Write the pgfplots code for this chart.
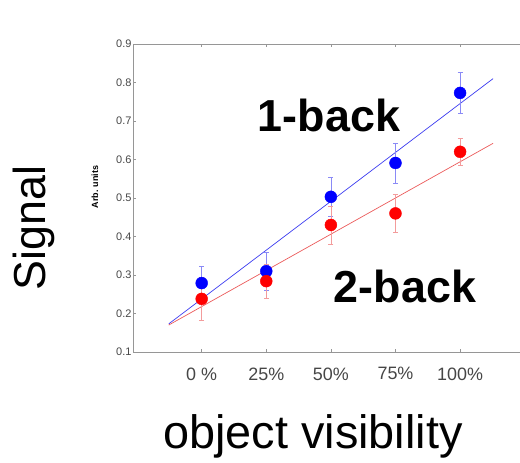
\documentclass[border=0pt]{standalone}
\usepackage{pgfplots}
\pgfplotsset{compat=1.18}
\usepackage{fontspec}
\setmainfont{Liberation Sans}
\definecolor{axgray}{RGB}{150,150,150}
\definecolor{tickgray}{RGB}{70,70,70}
\definecolor{linered}{RGB}{235,90,90}
\definecolor{lineblue}{RGB}{60,60,240}
\begin{document}
\begin{tikzpicture}
\useasboundingbox (0,0) rectangle (520bp,463bp);
\begin{axis}[
  at={(133bp,111bp)}, anchor=south west,
  scale only axis, width=391.7bp, height=308bp,
  xmin=-1.063, xmax=5, ymin=0.1, ymax=0.9,
  xtick={0,1,2,3,4}, xticklabels={0 \%,25\%,50\%,75\%,100\%},
  ytick={0.1,0.2,...,0.9},
  yticklabels={0.1,0.2,0.3,0.4,0.5,0.6,0.7,0.8,0.9},
  /pgf/number format/assume math mode=true,
  tick align=inside, major tick length=3bp,
  tick style={axgray, thin},
  axis line style={axgray, line width=0.8bp},
  xticklabel style={font=\fontsize{18}{18}\selectfont, text=tickgray, yshift=-12bp},
  yticklabel style={font=\fontsize{11}{11}\selectfont, text=tickgray, xshift=2bp},
  clip=false,
]
\addplot[lineblue, line width=0.7bp] coordinates {(-0.51,0.173) (4.51,0.81)};
\addplot[linered, line width=0.7bp] coordinates {(-0.51,0.170) (4.51,0.642)};
\addplot[blue, only marks, mark=*, mark size=6,
  error bars/.cd, y dir=both, y explicit,
  error bar style={lineblue!60, thin}, error mark options={lineblue!60, mark size=2.5bp, rotate=90}]
  coordinates {
  (0,0.279) +- (0,0.045)
  (1,0.310) +- (0,0.050)
  (2,0.503) +- (0,0.050)
  (3,0.591) +- (0,0.052)
  (4,0.773) +- (0,0.053)
  };
\addplot[red, only marks, mark=*, mark size=6,
  error bars/.cd, y dir=both, y explicit,
  error bar style={linered!60, thin}, error mark options={linered!60, mark size=2.5bp, rotate=90}]
  coordinates {
  (0,0.238) +- (0,0.055)
  (1,0.284) +- (0,0.045)
  (2,0.430) +- (0,0.050)
  (3,0.460) +- (0,0.050)
  (4,0.620) +- (0,0.035)
  };
\end{axis}
\node[rotate=90, font=\fontsize{45}{45}\selectfont] at (34bp,235bp) {Signal};
\node[rotate=90, font=\bfseries\fontsize{9}{9}\selectfont] at (95bp,276bp) {Arb. units};
\node[anchor=base, font=\fontsize{47}{47}\selectfont] at (313bp,15bp) {object visibility};
\node[anchor=base, font=\bfseries\fontsize{45}{45}\selectfont] at (329bp,331bp) {1-back};
\node[anchor=base, font=\bfseries\fontsize{45}{45}\selectfont] at (405bp,160bp) {2-back};
\end{tikzpicture}
\end{document}
